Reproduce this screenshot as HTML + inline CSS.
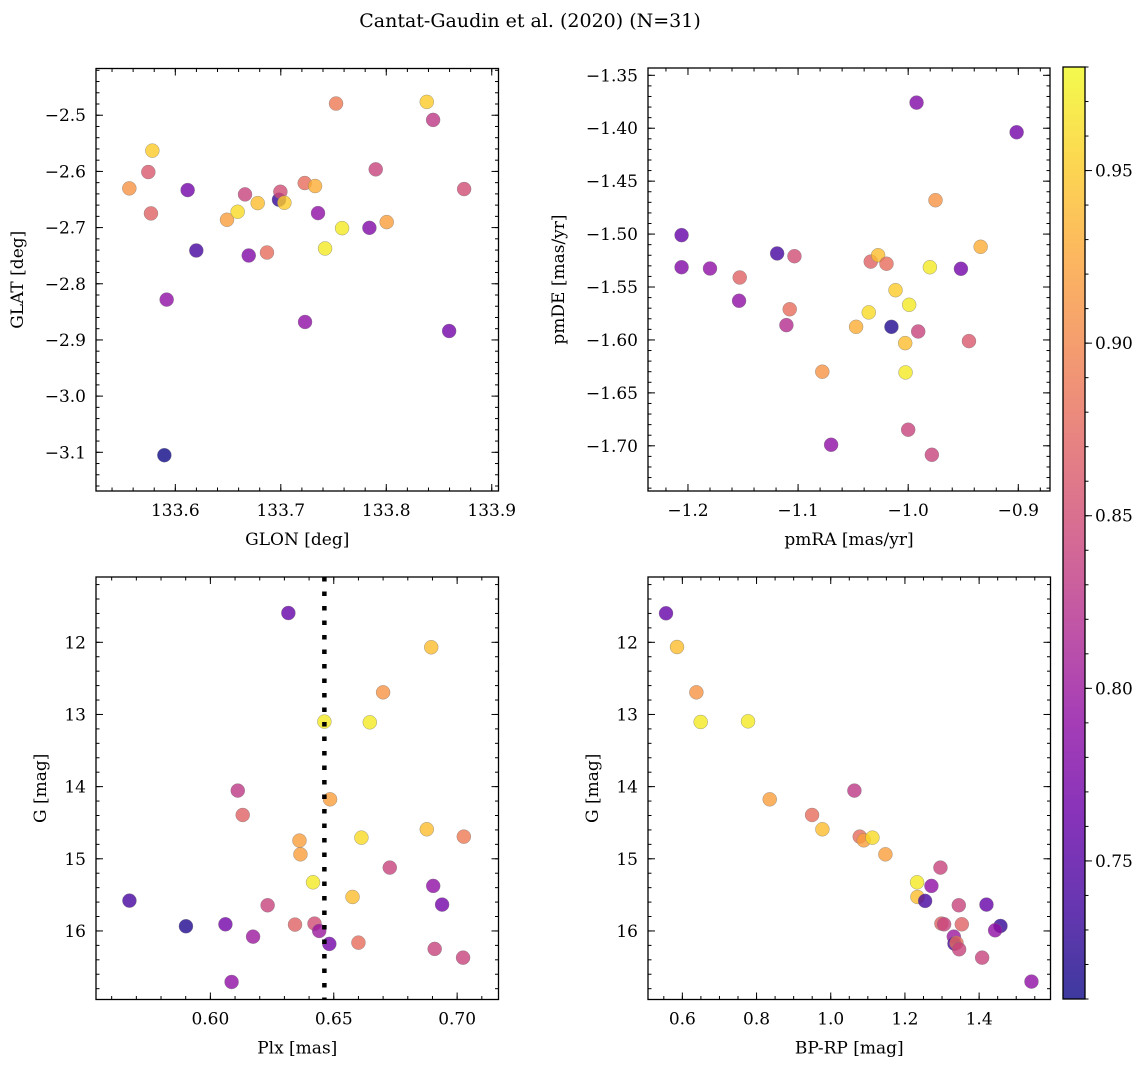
<!DOCTYPE html>
<html><head><meta charset="utf-8"><style>
body{margin:0;background:#fff;}
svg text{font-family:"DejaVu Serif","Liberation Serif",serif;fill:#000;}
</style></head><body>
<svg id="fig" width="1148" height="1067" viewBox="0 0 1148 1067" xmlns="http://www.w3.org/2000/svg">
<rect width="1148" height="1067" fill="#fff"/>
<text x="530" y="27" font-size="19" text-anchor="middle">Cantat-Gaudin et al. (2020) (N=31)</text>
</svg>
<script>
const glon=[133.5564,133.5744,133.5782,133.5769,133.6117,133.6199,133.5918,133.5896,133.6490,133.6591,133.6661,133.6696,133.6781,133.6869,133.6983,133.6996,133.7034,133.7227,133.7325,133.7353,133.7230,133.7524,133.7420,133.7581,133.7840,133.7900,133.8004,133.8384,133.8444,133.8596,133.8738];
const glat=[-2.6302,-2.6011,-2.5630,-2.6748,-2.6332,-2.7408,-2.8282,-3.1052,-2.6861,-2.6718,-2.6409,-2.7497,-2.6564,-2.7444,-2.6504,-2.6362,-2.6558,-2.6207,-2.6260,-2.6742,-2.8680,-2.4792,-2.7372,-2.7010,-2.7004,-2.5963,-2.6902,-2.4762,-2.5083,-2.8841,-2.6314];
const prob1=[0.91,0.86,0.95,0.87,0.77,0.74,0.79,0.71,0.92,0.96,0.84,0.78,0.94,0.88,0.73,0.85,0.95,0.88,0.93,0.79,0.79,0.89,0.97,0.97,0.78,0.84,0.92,0.95,0.83,0.77,0.85];
const pmra=[-1.2058,-1.2058,-1.180,-1.153,-1.1536,-1.119,-1.1033,-1.1076,-1.1106,-1.078,-1.070,-1.034,-1.0273,-1.0197,-1.0473,-1.0358,-1.0115,-1.0152,-0.9991,-1.0027,-1.0024,-1.0,-0.9909,-0.9803,-0.9752,-0.9785,-0.9924,-0.9448,-0.9521,-0.9342,-0.9015];
const pmde=[-1.501,-1.5313,-1.5325,-1.541,-1.563,-1.5183,-1.5209,-1.571,-1.586,-1.630,-1.699,-1.526,-1.520,-1.528,-1.5876,-1.574,-1.553,-1.5876,-1.5668,-1.603,-1.6307,-1.6848,-1.592,-1.5313,-1.468,-1.7085,-1.3758,-1.6011,-1.5328,-1.512,-1.4038];
const prob2=[0.76,0.78,0.79,0.87,0.79,0.74,0.85,0.88,0.82,0.91,0.79,0.87,0.94,0.88,0.93,0.96,0.95,0.72,0.97,0.94,0.97,0.84,0.84,0.97,0.91,0.84,0.78,0.86,0.77,0.93,0.77];
const plx=[0.5672,0.5901,0.6061,0.6086,0.6173,0.6111,0.6131,0.6232,0.6316,0.6343,0.6361,0.6365,0.6416,0.6422,0.6441,0.6462,0.6485,0.6482,0.6576,0.6600,0.6612,0.6646,0.6700,0.6727,0.6877,0.6895,0.6903,0.6909,0.6939,0.7027,0.7024];
const gmag3=[15.580,15.935,15.908,16.707,16.079,14.055,14.393,15.644,11.594,15.912,14.748,14.938,15.326,15.898,16.0,13.099,14.176,16.180,15.529,16.162,14.707,13.109,12.693,15.122,14.591,12.069,15.376,16.249,15.635,14.693,16.370];
const prob3=[0.74,0.72,0.77,0.79,0.80,0.83,0.87,0.84,0.76,0.87,0.92,0.92,0.97,0.85,0.80,0.97,0.92,0.77,0.94,0.88,0.96,0.97,0.91,0.84,0.94,0.94,0.79,0.84,0.77,0.89,0.84];
const bprp=[0.556,0.5856,0.6378,0.6494,0.7771,0.8355,0.9497,0.9775,1.0638,1.0782,1.0890,1.1124,1.1474,1.2957,1.2328,1.2714,1.2337,1.2544,1.3452,1.4198,1.2984,1.3056,1.3533,1.4575,1.4431,1.3317,1.3335,1.3389,1.3461,1.4081,1.5411];
const gmag4=[11.598,12.065,12.693,13.104,13.095,14.176,14.393,14.591,14.055,14.693,14.744,14.707,14.938,15.122,15.326,15.376,15.529,15.584,15.644,15.635,15.898,15.908,15.908,15.931,15.991,16.079,16.176,16.166,16.254,16.370,16.702];
const prob4=[0.76,0.94,0.91,0.97,0.97,0.92,0.88,0.94,0.83,0.88,0.92,0.96,0.92,0.84,0.97,0.79,0.94,0.74,0.84,0.76,0.87,0.84,0.87,0.73,0.79,0.80,0.74,0.88,0.84,0.84,0.79];
const plxCut=0.6462;
const cbTicks=[0.75,0.80,0.85,0.90,0.95];
const VMIN=0.71,VMAX=0.98;

const NS='http://www.w3.org/2000/svg';
const svg=document.getElementById('fig');
function mk(tag,attrs,parent){const e=document.createElementNS(NS,tag);for(const k in attrs)e.setAttribute(k,attrs[k]);(parent||svg).appendChild(e);return e;}
const stops=['#0d0887','#41049d','#6a00a8','#8f0da4','#b12a90','#cc4778','#e16462','#f2844b','#fca636','#fcce25','#f0f921'];
function hex(h){return [1,3,5].map(i=>parseInt(h.substr(i,2),16));}
function plasma(t){t=Math.max(0,Math.min(1,t));const p=t*10,i=Math.min(9,Math.floor(p)),f=p-i;const a=hex(stops[i]),b=hex(stops[i+1]);return 'rgb('+a.map((v,k)=>Math.round(v+(b[k]-v)*f)).join(',')+')';}
function cmap(v){return plasma((v-VMIN)/(VMAX-VMIN));}
function fmt(v,d){const s=v.toFixed(d);return v<0?'\u2212'+s.slice(1):s;}

function panel(o){
  const g=mk('g',{});
  
  
  const sx=v=>o.x0+(v-o.xd[0])/(o.xd[1]-o.xd[0])*(o.x1-o.x0);
  const sy=v=>o.inv? o.y0+(v-o.yd[0])/(o.yd[1]-o.yd[0])*(o.y1-o.y0) : o.y1-(v-o.yd[0])/(o.yd[1]-o.yd[0])*(o.y1-o.y0);
  const tg=mk('g',{stroke:'#000','stroke-width':1},g);
  for(let v=Math.ceil(o.xd[0]/o.xmin-1e-6)*o.xmin;v<=o.xd[1];v+=o.xmin){const X=sx(v);mk('line',{x1:X,x2:X,y1:o.y1,y2:o.y1-3.5},tg);mk('line',{x1:X,x2:X,y1:o.y0,y2:o.y0+3.5},tg);}
  for(let v=Math.ceil(o.yd[0]/o.ymin-1e-6)*o.ymin;v<=o.yd[1];v+=o.ymin){const Y=sy(v);mk('line',{x1:o.x0,x2:o.x0+3.5,y1:Y,y2:Y},tg);mk('line',{x1:o.x1,x2:o.x1-3.5,y1:Y,y2:Y},tg);}
  o.xt.forEach(v=>{const X=sx(v);mk('line',{x1:X,x2:X,y1:o.y1,y2:o.y1-7},tg);mk('line',{x1:X,x2:X,y1:o.y0,y2:o.y0+7},tg);
    const t=mk('text',{x:X,y:o.y1+25,'font-size':17,'text-anchor':'middle'},g);t.textContent=fmt(v,o.xdec);
    });
  o.yt.forEach(v=>{const Y=sy(v);mk('line',{x1:o.x0,x2:o.x0+7,y1:Y,y2:Y},tg);mk('line',{x1:o.x1,x2:o.x1-7,y1:Y,y2:Y},tg);
    const t=mk('text',{x:o.x0-10,y:Y+6,'font-size':17,'text-anchor':'end'},g);t.textContent=fmt(v,o.ydec);
    });
  const cg=mk('g',{},g);
  if(o.vline!==undefined){const X=sx(o.vline);const l=mk('line',{x1:X,x2:X,y1:o.y0,y2:o.y1,stroke:'#000','stroke-width':4.5,'stroke-dasharray':'4.5 10'},g);
    }
  o.xs.forEach((v,i)=>{const c=mk('circle',{cx:sx(v),cy:sy(o.ys[i]),r:7,fill:cmap(o.c[i]),'fill-opacity':0.8,stroke:'#777','stroke-width':0.5,'stroke-opacity':0.7},cg);
    });
  const fr=mk('rect',{x:o.x0,y:o.y0,width:o.x1-o.x0,height:o.y1-o.y0,fill:'none',stroke:'#000','stroke-width':1.3},g);
  
  const xl=mk('text',{x:(o.x0+o.x1)/2,y:o.y1+54,'font-size':17,'text-anchor':'middle'},g);xl.textContent=o.xlab;
  
  const yx=o.ylx,yy=(o.y0+o.y1)/2;
  const yl=mk('text',{x:yx,y:yy,'font-size':17,'text-anchor':'middle',transform:'rotate(-90 '+yx+' '+yy+')'},g);yl.textContent=o.ylab;
  
}
panel({name:'glon-glat-panel',x0:96,x1:498.5,y0:68.5,y1:491,xd:[133.5248,133.9064],yd:[-3.1689,-2.4168],xt:[133.6,133.7,133.8,133.9],xmin:0.02,xdec:1,yt:[-3.1,-3.0,-2.9,-2.8,-2.7,-2.6,-2.5],ymin:0.02,ydec:1,xs:glon,ys:glat,c:prob1,xlab:'GLON [deg]',ylab:'GLAT [deg]',ylx:23});
panel({name:'proper-motion-panel',x0:648,x1:1050,y0:68,y1:491,xd:[-1.2363,-0.8712],yd:[-1.7427,-1.3431],xt:[-1.2,-1.1,-1.0,-0.9],xmin:0.02,xdec:1,yt:[-1.70,-1.65,-1.60,-1.55,-1.50,-1.45,-1.40,-1.35],ymin:0.01,ydec:2,xs:pmra,ys:pmde,c:prob2,xlab:'pmRA [mas/yr]',ylab:'pmDE [mas/yr]',ylx:564});
panel({name:'parallax-g-panel',x0:96,x1:498.5,y0:577,y1:999.5,xd:[0.55365,0.71676],yd:[11.095,16.95],inv:true,xt:[0.60,0.65,0.70],xmin:0.01,xdec:2,yt:[12,13,14,15,16],ymin:0.2,ydec:0,xs:plx,ys:gmag3,c:prob3,xlab:'Plx [mas]',ylab:'G [mag]',ylx:46,vline:plxCut});
panel({name:'cmd-panel',x0:648,x1:1050.5,y0:577,y1:999.5,xd:[0.5074,1.5924],yd:[11.095,16.95],inv:true,xt:[0.6,0.8,1.0,1.2,1.4],xmin:0.05,xdec:1,yt:[12,13,14,15,16],ymin:0.2,ydec:0,xs:bprp,ys:gmag4,c:prob4,xlab:'BP-RP [mag]',ylab:'G [mag]',ylx:598});

(function(){
  const x0=1063,x1=1085,y0=67,y1=999;
  const cb=mk('g',{});
  
  const defs=mk('defs',{},cb);
  const lg=mk('linearGradient',{id:'pl',x1:0,y1:1,x2:0,y2:0},defs);
  for(let i=0;i<=20;i++)mk('stop',{offset:i/20,'stop-color':plasma(i/20)},lg);
  mk('rect',{x:x0,y:y0,width:x1-x0,height:y1-y0,fill:'url(#pl)','fill-opacity':0.8},cb);
  const sy=v=>y1-(v-VMIN)/(VMAX-VMIN)*(y1-y0);
  for(let k=Math.ceil(VMIN*100);k<=VMAX*100;k++){const Y=sy(k/100);mk('line',{x1:x1,x2:x1+3.5,y1:Y,y2:Y,stroke:'#000'},cb);}
  cbTicks.forEach(v=>{const Y=sy(v);mk('line',{x1:x1,x2:x1+7,y1:Y,y2:Y,stroke:'#000'},cb);
    const t=mk('text',{x:x1+10,y:Y+6,'font-size':17},cb);t.textContent=v.toFixed(2);
    });
  mk('rect',{x:x0,y:y0,width:x1-x0,height:y1-y0,fill:'none',stroke:'#000','stroke-width':1.3},cb);
})();
</script>
</body></html>
